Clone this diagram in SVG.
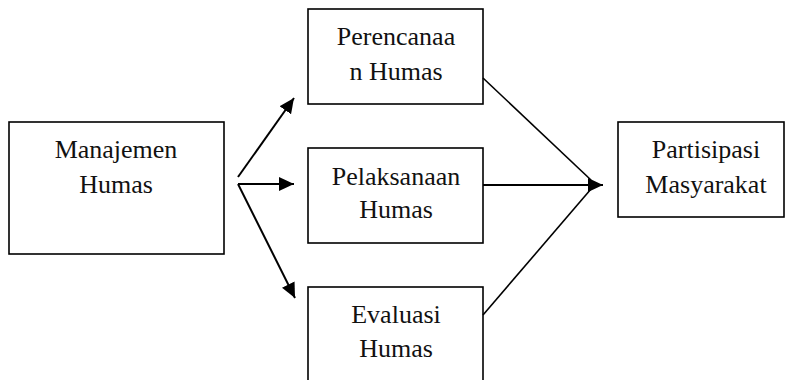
<svg xmlns="http://www.w3.org/2000/svg" width="785" height="380" viewBox="0 0 785 380">
<style>
.box{fill:#fff;stroke:#000;stroke-width:1.6}
.t{font-family:"Liberation Serif","Times New Roman",serif;font-size:26px;fill:#111;text-anchor:middle}
.c{stroke:#000;stroke-width:2;fill:none}
.c2{stroke:#000;stroke-width:1.6;fill:none}
</style>
<defs>
<marker id="ah" markerUnits="userSpaceOnUse" markerWidth="16" markerHeight="14" refX="15" refY="7" orient="auto">
<path d="M0,0 L15,7 L0,14 Z" fill="#000"/>
</marker>
</defs>
<g id="n-manajemen">
<rect class="box" x="9" y="122" width="215" height="132"/>
<text class="t" x="116" y="158">Manajemen</text>
<text class="t" x="116" y="193">Humas</text>
</g>
<g id="n-perencanaan">
<rect class="box" x="308" y="9" width="175" height="95"/>
<text class="t" x="396" y="45">Perencanaa</text>
<text class="t" x="396" y="80">n Humas</text>
</g>
<g id="n-pelaksanaan">
<rect class="box" x="308" y="148" width="175" height="95"/>
<text class="t" x="396" y="185">Pelaksanaan</text>
<text class="t" x="396" y="218">Humas</text>
</g>
<g id="n-evaluasi">
<rect class="box" x="308" y="287" width="175" height="100"/>
<text class="t" x="396" y="323">Evaluasi</text>
<text class="t" x="396" y="357">Humas</text>
</g>
<g id="n-partisipasi">
<rect class="box" x="618" y="122" width="166" height="95"/>
<text class="t" x="706" y="158">Partisipasi</text>
<text class="t" x="706" y="193">Masyarakat</text>
</g>
<g id="connectors">
<line class="c" x1="238" y1="177" x2="294" y2="98" marker-end="url(#ah)"/>
<line class="c" x1="238" y1="184" x2="294" y2="184" marker-end="url(#ah)"/>
<line class="c" x1="238" y1="184" x2="295" y2="298" marker-end="url(#ah)"/>
<line class="c2" x1="483" y1="78" x2="591" y2="180"/>
<line class="c" x1="483" y1="185" x2="603" y2="185" marker-end="url(#ah)"/>
<line class="c2" x1="483" y1="315" x2="591" y2="189"/>
</g>
</svg>
